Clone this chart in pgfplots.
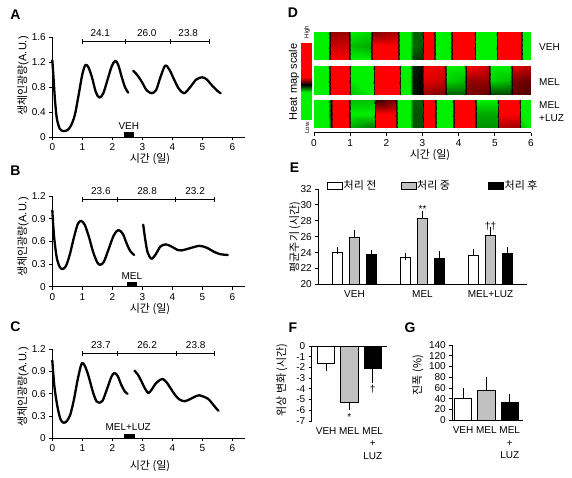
\documentclass[border=0pt]{standalone}
\usepackage{fontspec}
\setmainfont{Liberation Sans}
\newfontfamily\kr{Noto Sans CJK KR}
\usepackage{pgfplots}
\pgfplotsset{compat=1.18}
\definecolor{bargray}{RGB}{192,192,192}
\newcommand\tl{\fontsize{10}{12}\selectfont}
\newcommand\kl{\kr\fontsize{11}{13}\selectfont}
\newcommand\pl{\fontsize{14}{16}\selectfont\bfseries}
\tikzset{bk/.style={line width=0.8pt},
  curve/.style={black, line width=2.3pt, smooth, line cap=round, line join=round}}
\pgfplotsset{
  base/.style={scale only axis, anchor=south west, tick align=outside, major tick length=3pt,
    /pgf/number format/assume math mode=true,
    tick label style={font=\tl},
    axis line style={line width=0.8pt}, tick style={line width=0.8pt, black},
    axis lines*=left},
  curveax/.style={base, xmin=0, xmax=6.42, xtick={0,...,6}, ymin=0, width=192.6pt, clip=false},
  ebar/.style={ybar, bar shift=0pt, draw=black, line width=0.8pt,
    error bars/y explicit, error bars/error bar style={line width=0.8pt},
    error bars/error mark options={line width=0.8pt, black, mark size=3.5pt}},
  ebar4/.style={ebar, error bars/error mark options={line width=0.8pt, black, mark size=4pt}},
}
\begin{document}
\begin{tikzpicture}[x=1pt,y=1pt]
\path[use as bounding box] (0,0) rectangle (572,478);

% ---------------- A
\begin{axis}[curveax, at={(52.3pt,341pt)}, height=100pt, ymax=1.6, ytick={0,0.4,0.8,1.2,1.6}]
\addplot[curve] coordinates {(0,1.23) (0.04,0.95) (0.09,0.59) (0.15,0.3) (0.25,0.13) (0.37,0.095) (0.5,0.11) (0.62,0.18) (0.75,0.35) (0.88,0.68) (1.0,1.0) (1.1,1.15) (1.2,1.12) (1.32,0.96) (1.45,0.72) (1.57,0.63) (1.7,0.7) (1.85,0.93) (1.98,1.13) (2.1,1.22) (2.2,1.15) (2.32,0.95) (2.43,0.79) (2.53,0.71)};
\addplot[curve] coordinates {(2.7,1.06) (2.85,0.98) (3.0,0.87) (3.14,0.75) (3.31,0.70) (3.46,0.75) (3.6,0.95) (3.76,1.14) (3.9,1.08) (4.05,0.93) (4.22,0.77) (4.4,0.70) (4.6,0.80) (4.8,0.92) (5.0,0.955) (5.15,0.92) (5.35,0.81) (5.5,0.74) (5.61,0.70)};
\draw[bk] (axis cs:1,1.525) -- (axis cs:5.23,1.525);
\draw[bk] ([yshift=-2.5pt]axis cs:1,1.525) -- ([yshift=2.5pt]axis cs:1,1.525);
\draw[bk] ([yshift=-2.5pt]axis cs:2.45,1.525) -- ([yshift=2.5pt]axis cs:2.45,1.525);
\draw[bk] ([yshift=-2.5pt]axis cs:3.93,1.525) -- ([yshift=2.5pt]axis cs:3.93,1.525);
\draw[bk] ([yshift=-2.5pt]axis cs:5.23,1.525) -- ([yshift=2.5pt]axis cs:5.23,1.525);
\node[font=\tl, anchor=base, inner sep=0, yshift=5pt] at (axis cs:1.6,1.525) {24.1};
\node[font=\tl, anchor=base, inner sep=0, yshift=5pt] at (axis cs:3.15,1.525) {26.0};
\node[font=\tl, anchor=base, inner sep=0, yshift=5pt] at (axis cs:4.53,1.525) {23.8};
\fill (axis cs:2.39,0) rectangle (axis cs:2.72,0.08);
\node[font=\tl, anchor=south, inner sep=0, yshift=2.5pt] at (axis cs:2.55,0.08) {VEH};
\end{axis}

% ---------------- B
\begin{axis}[curveax, at={(52.3pt,191.3pt)}, height=90.7pt, ymax=1.2, ytick={0,0.3,0.6,0.9,1.2}]
\addplot[curve] coordinates {(0,1.01) (0.06,0.66) (0.15,0.38) (0.25,0.26) (0.34,0.234) (0.45,0.27) (0.58,0.42) (0.72,0.65) (0.85,0.83) (0.96,0.87) (1.08,0.82) (1.22,0.66) (1.36,0.46) (1.5,0.32) (1.6,0.29) (1.72,0.33) (1.88,0.5) (2.05,0.68) (2.2,0.75) (2.35,0.7) (2.48,0.57) (2.6,0.47) (2.73,0.42)};
\addplot[curve] coordinates {(3.03,0.82) (3.1,0.62) (3.18,0.45) (3.31,0.37) (3.45,0.43) (3.6,0.53) (3.78,0.56) (3.98,0.53) (4.18,0.485) (4.31,0.48) (4.55,0.505) (4.9,0.54) (5.15,0.515) (5.4,0.46) (5.6,0.43) (5.85,0.42)};
\draw[bk] (axis cs:1,1.156) -- (axis cs:5.4,1.156);
\draw[bk] ([yshift=-2.5pt]axis cs:1,1.156) -- ([yshift=2.5pt]axis cs:1,1.156);
\draw[bk] ([yshift=-2.5pt]axis cs:2.17,1.156) -- ([yshift=2.5pt]axis cs:2.17,1.156);
\draw[bk] ([yshift=-2.5pt]axis cs:4.1,1.156) -- ([yshift=2.5pt]axis cs:4.1,1.156);
\draw[bk] ([yshift=-2.5pt]axis cs:5.4,1.156) -- ([yshift=2.5pt]axis cs:5.4,1.156);
\node[font=\tl, anchor=base, inner sep=0, yshift=5pt] at (axis cs:1.62,1.156) {23.6};
\node[font=\tl, anchor=base, inner sep=0, yshift=5pt] at (axis cs:3.16,1.156) {28.8};
\node[font=\tl, anchor=base, inner sep=0, yshift=5pt] at (axis cs:4.76,1.156) {23.2};
\fill (axis cs:2.49,0) rectangle (axis cs:2.81,0.06);
\node[font=\tl, anchor=south, inner sep=0, yshift=2pt] at (axis cs:2.65,0.06) {MEL};
\end{axis}

% ---------------- C
\begin{axis}[curveax, at={(52.3pt,39.7pt)}, height=89pt, ymax=1.2, ytick={0,0.3,0.6,0.9,1.2}]
\addplot[curve] coordinates {(0,1.05) (0.07,0.70) (0.17,0.43) (0.27,0.26) (0.37,0.21) (0.48,0.23) (0.6,0.32) (0.72,0.52) (0.85,0.8) (0.98,1.01) (1.08,0.98) (1.2,0.85) (1.35,0.63) (1.47,0.5) (1.56,0.48) (1.68,0.51) (1.82,0.66) (1.97,0.83) (2.07,0.88) (2.18,0.84) (2.3,0.72) (2.42,0.63) (2.51,0.6)};
\addplot[curve] coordinates {(2.74,0.91) (2.85,0.86) (2.97,0.77) (3.09,0.67) (3.2,0.61) (3.3,0.65) (3.45,0.74) (3.6,0.79) (3.68,0.8) (3.8,0.76) (3.95,0.67) (4.1,0.58) (4.25,0.52) (4.42,0.5) (4.6,0.53) (4.8,0.57) (4.9,0.58) (5.05,0.56) (5.2,0.53) (5.35,0.46) (5.45,0.41) (5.54,0.37)};
\draw[bk] (axis cs:1,1.15) -- (axis cs:5.4,1.15);
\draw[bk] ([yshift=-2.5pt]axis cs:1,1.15) -- ([yshift=2.5pt]axis cs:1,1.15);
\draw[bk] ([yshift=-2.5pt]axis cs:2.17,1.15) -- ([yshift=2.5pt]axis cs:2.17,1.15);
\draw[bk] ([yshift=-2.5pt]axis cs:4.12,1.15) -- ([yshift=2.5pt]axis cs:4.12,1.15);
\draw[bk] ([yshift=-2.5pt]axis cs:5.4,1.15) -- ([yshift=2.5pt]axis cs:5.4,1.15);
\node[font=\tl, anchor=base, inner sep=0, yshift=5pt] at (axis cs:1.62,1.15) {23.7};
\node[font=\tl, anchor=base, inner sep=0, yshift=5pt] at (axis cs:3.16,1.15) {26.2};
\node[font=\tl, anchor=base, inner sep=0, yshift=5pt] at (axis cs:4.78,1.15) {23.8};
\fill (axis cs:2.39,0) rectangle (axis cs:2.76,0.06);
\node[font=\tl, anchor=south, inner sep=0, yshift=3.5pt] at (axis cs:2.53,0.06) {MEL+LUZ};
\end{axis}

% ---------------- D heat map
\begin{axis}[scale only axis, anchor=south west, at={(314pt,345.3pt)}, width=217pt, height=100.7pt,
  view={0}{90}, hide axis, xmin=0, xmax=6, ymin=0, ymax=100.7, zmin=-1, zmax=1,
  colormap={gbr}{rgb255=(0,240,0) rgb255=(0,0,0) rgb255=(255,0,0)},
  point meta min=-1, point meta max=1]
% VEH
\addplot3[surf, shader=interp, mesh/ordering=y varies, mesh/rows=3, point meta=explicit] coordinates {
(0,72.7,0)[-1] (0,86.7,0)[-1] (0,100.7,0)[-1]
(0.40,72.7,0)[-1] (0.40,86.7,0)[-1] (0.40,100.7,0)[-1]
(0.48,72.7,0)[1] (0.48,86.7,0)[0.8] (0.48,100.7,0)[0.6]
(0.95,72.7,0)[1] (0.95,86.7,0)[0.8] (0.95,100.7,0)[0.6]
(1.02,72.7,0)[-1] (1.02,86.7,0)[-0.8] (1.02,100.7,0)[-1]
(1.55,72.7,0)[-1] (1.55,86.7,0)[-0.7] (1.55,100.7,0)[-0.9]
(1.63,72.7,0)[1] (1.63,86.7,0)[1] (1.63,100.7,0)[0.5]
(2.30,72.7,0)[1] (2.30,86.7,0)[1] (2.30,100.7,0)[0.7]
(2.37,72.7,0)[-1] (2.37,86.7,0)[-1] (2.37,100.7,0)[-1]
(2.66,72.7,0)[-1] (2.66,86.7,0)[-1] (2.66,100.7,0)[-1]
(2.74,72.7,0)[-0.25] (2.74,86.7,0)[-0.45] (2.74,100.7,0)[-0.4]
(2.98,72.7,0)[-0.2] (2.98,86.7,0)[-0.4] (2.98,100.7,0)[-0.4]
(3.04,72.7,0)[1] (3.04,86.7,0)[1] (3.04,100.7,0)[1]
(3.30,72.7,0)[1] (3.30,86.7,0)[1] (3.30,100.7,0)[1]
(3.37,72.7,0)[-1] (3.37,86.7,0)[-1] (3.37,100.7,0)[-1]
(3.76,72.7,0)[-1] (3.76,86.7,0)[-1] (3.76,100.7,0)[-1]
(3.84,72.7,0)[1] (3.84,86.7,0)[1] (3.84,100.7,0)[1]
(4.42,72.7,0)[1] (4.42,86.7,0)[1] (4.42,100.7,0)[1]
(4.49,72.7,0)[-1] (4.49,86.7,0)[-1] (4.49,100.7,0)[-1]
(5.02,72.7,0)[-1] (5.02,86.7,0)[-1] (5.02,100.7,0)[-1]
(5.09,72.7,0)[1] (5.09,86.7,0)[1] (5.09,100.7,0)[1]
(5.70,72.7,0)[1] (5.70,86.7,0)[1] (5.70,100.7,0)[1]
(5.77,72.7,0)[-1] (5.77,86.7,0)[-1] (5.77,100.7,0)[-1]
(6,72.7,0)[-1] (6,86.7,0)[-1] (6,100.7,0)[-1]
};
% MEL
\addplot3[surf, shader=interp, mesh/ordering=y varies, mesh/rows=3, point meta=explicit] coordinates {
(0,38.4,0)[-1] (0,52.7,0)[-1] (0,67,0)[-1]
(0.40,38.4,0)[-1] (0.40,52.7,0)[-1] (0.40,67,0)[-1]
(0.48,38.4,0)[1] (0.48,52.7,0)[1] (0.48,67,0)[1]
(0.96,38.4,0)[1] (0.96,52.7,0)[1] (0.96,67,0)[1]
(1.03,38.4,0)[-0.8] (1.03,52.7,0)[-1] (1.03,67,0)[-1]
(1.62,38.4,0)[-1] (1.62,52.7,0)[-1] (1.62,67,0)[-1]
(1.70,38.4,0)[1] (1.70,52.7,0)[1] (1.70,67,0)[1]
(2.34,38.4,0)[1] (2.34,52.7,0)[1] (2.34,67,0)[1]
(2.41,38.4,0)[-1] (2.41,52.7,0)[-1] (2.41,67,0)[-1]
(2.66,38.4,0)[-1] (2.66,52.7,0)[-1] (2.66,67,0)[-1]
(2.74,38.4,0)[-0.1] (2.74,52.7,0)[-0.1] (2.74,67,0)[-0.15]
(2.98,38.4,0)[0] (2.98,52.7,0)[0] (2.98,67,0)[-0.05]
(3.05,38.4,0)[0.6] (3.05,52.7,0)[0.9] (3.05,67,0)[1]
(3.60,38.4,0)[0.5] (3.60,52.7,0)[0.8] (3.60,67,0)[0.9]
(3.68,38.4,0)[-0.4] (3.68,52.7,0)[-0.9] (3.68,67,0)[-1]
(4.15,38.4,0)[-0.4] (4.15,52.7,0)[-0.8] (4.15,67,0)[-1]
(4.22,38.4,0)[0.5] (4.22,52.7,0)[0.6] (4.22,67,0)[1]
(4.82,38.4,0)[0.4] (4.82,52.7,0)[0.6] (4.82,67,0)[0.8]
(4.90,38.4,0)[-0.3] (4.90,52.7,0)[-0.9] (4.90,67,0)[-1]
(5.42,38.4,0)[-0.3] (5.42,52.7,0)[-0.8] (5.42,67,0)[-1]
(5.50,38.4,0)[0.4] (5.50,52.7,0)[0.5] (5.50,67,0)[0.9]
(6,38.4,0)[0.3] (6,52.7,0)[0.4] (6,67,0)[0.7]
};
% MEL+LUZ
\addplot3[surf, shader=interp, mesh/ordering=y varies, mesh/rows=3, point meta=explicit] coordinates {
(0,5,0)[-1] (0,18.85,0)[-1] (0,32.7,0)[-1]
(0.38,5,0)[-1] (0.38,18.85,0)[-1] (0.38,32.7,0)[-1]
(0.46,5,0)[-0.2] (0.46,18.85,0)[0] (0.46,32.7,0)[0]
(0.52,5,0)[1] (0.52,18.85,0)[1] (0.52,32.7,0)[1]
(0.95,5,0)[1] (0.95,18.85,0)[1] (0.95,32.7,0)[1]
(1.03,5,0)[-0.7] (1.03,18.85,0)[-1] (1.03,32.7,0)[-0.8]
(1.65,5,0)[-0.5] (1.65,18.85,0)[-1] (1.65,32.7,0)[-0.8]
(1.72,5,0)[1] (1.72,18.85,0)[1] (1.72,32.7,0)[0.2]
(2.25,5,0)[1] (2.25,18.85,0)[1] (2.25,32.7,0)[0.5]
(2.32,5,0)[-1] (2.32,18.85,0)[-1] (2.32,32.7,0)[-1]
(2.66,5,0)[-1] (2.66,18.85,0)[-1] (2.66,32.7,0)[-1]
(2.74,5,0)[-0.35] (2.74,18.85,0)[-0.35] (2.74,32.7,0)[-0.4]
(2.98,5,0)[-0.35] (2.98,18.85,0)[-0.35] (2.98,32.7,0)[-0.4]
(3.04,5,0)[1] (3.04,18.85,0)[1] (3.04,32.7,0)[1]
(3.32,5,0)[1] (3.32,18.85,0)[1] (3.32,32.7,0)[1]
(3.39,5,0)[-1] (3.39,18.85,0)[-1] (3.39,32.7,0)[-1]
(3.82,5,0)[-1] (3.82,18.85,0)[-1] (3.82,32.7,0)[-1]
(3.90,5,0)[1] (3.90,18.85,0)[1] (3.90,32.7,0)[1]
(4.42,5,0)[1] (4.42,18.85,0)[1] (4.42,32.7,0)[1]
(4.50,5,0)[-0.6] (4.50,18.85,0)[-0.7] (4.50,32.7,0)[-1]
(5.05,5,0)[-0.6] (5.05,18.85,0)[-0.7] (5.05,32.7,0)[-1]
(5.12,5,0)[0.7] (5.12,18.85,0)[1] (5.12,32.7,0)[1]
(5.66,5,0)[0.6] (5.66,18.85,0)[1] (5.66,32.7,0)[1]
(5.73,5,0)[-0.8] (5.73,18.85,0)[-1] (5.73,32.7,0)[-1]
(6,5,0)[-1] (6,18.85,0)[-1] (6,32.7,0)[-1]
};
\end{axis}
\begin{axis}[base, at={(314pt,345.3pt)}, width=217pt, height=100.7pt, xmin=0, xmax=6, ymin=0, ymax=100.7,
  axis x line*=bottom, axis y line=none, xtick={0,...,6}]
\end{axis}

% ---------------- E
\begin{axis}[base, at={(318.3pt,193.7pt)}, width=208.4pt, height=95.3pt, xmin=-0.532, xmax=2.532,
  ymin=20, ymax=32, ytick={20,22,...,32}, xtick={0,1,2}, xticklabels={VEH,MEL,MEL+LUZ},
  xtick style={draw=none}]
\addplot[ebar, bar width=10.4pt, fill=white, error bars/y dir=plus] coordinates {(-0.25,24.03) +- (0,0.25) (0.75,23.4) +- (0,0.1) (1.75,23.7) +- (0,0.3)};
\addplot[ebar, bar width=10.4pt, fill=bargray, error bars/y dir=plus] coordinates {(0,25.96) +- (0,0.45) (1,28.3) +- (0,0.5) (2,26.2) +- (0,0.6)};
\addplot[ebar, bar width=10.4pt, fill=black, error bars/y dir=plus] coordinates {(0.25,23.8) +- (0,0.08) (1.25,23.3) +- (0,0.4) (2.25,23.9) +- (0,0.3)};
\node[font=\tl, anchor=base, inner sep=0] at (axis cs:1,29.0) {**};
\node[font=\tl, anchor=base, inner sep=0] at (axis cs:2,26.96) {††};
\end{axis}

% ---------------- F
\begin{axis}[base, at={(311.7pt,57pt)}, width=75pt, height=75pt, xmin=-0.62, xmax=2.6,
  ymin=-7, ymax=0, ytick={-7,...,0}, xtick={0,1,2}, xticklabels={VEH,MEL,{MEL\\+\\LUZ}},
  xticklabel style={align=center, font=\fontsize{10}{12.5}\selectfont},
  x axis line style={draw=none}, xtick style={draw=none}, clip=false]
\draw[bk] (axis cs:-0.62,0) -- (axis cs:2.6,0);
\addplot[ebar4, bar width=17.5pt, fill=white, error bars/y dir=minus] coordinates {(0,-1.65) +- (0,0.35)};
\addplot[ebar4, bar width=17.5pt, fill=bargray, error bars/y dir=minus] coordinates {(1,-5.3) +- (0,0.3)};
\addplot[ebar4, bar width=17.5pt, fill=black, error bars/y dir=minus] coordinates {(2,-2.05) +- (0,1.05)};
\node[font=\tl, anchor=base, inner sep=0] at (axis cs:1,-6.96) {*};
\node[font=\tl, anchor=base, inner sep=0] at (axis cs:2,-4.3) {†};
\end{axis}

% ---------------- G
\begin{axis}[base, at={(452.3pt,57.7pt)}, width=71pt, height=75.3pt, xmin=-0.46, xmax=2.58,
  ymin=0, ymax=140, ytick={0,20,...,140}, xtick={0,1,2}, xticklabels={VEH,MEL,{MEL\\+\\LUZ}},
  xticklabel style={align=center, font=\fontsize{10}{12.5}\selectfont}, xtick style={draw=none}]
\addplot[ebar4, bar width=17.5pt, fill=white, error bars/y dir=plus] coordinates {(0,41) +- (0,11)};
\addplot[ebar4, bar width=17.5pt, fill=bargray, error bars/y dir=plus] coordinates {(1,55) +- (0,18)};
\addplot[ebar4, bar width=17.5pt, fill=black, error bars/y dir=plus] coordinates {(2,33.5) +- (0,7.5)};
\end{axis}

% ---------------- texts
\node[font=\pl] at (15.5,463) {A};
\node[font=\pl] at (15.5,307) {B};
\node[font=\pl] at (15.5,151) {C};
\node[font=\pl] at (293,465) {D};
\node[font=\pl] at (294.5,310) {E};
\node[font=\pl] at (293,150) {F};
\node[font=\pl] at (410,150) {G};

\node[rotate=90, font=\fontsize{11}{13}\selectfont] at (23,402) {{\kr 생체인광량}(A.U.)};
\node[rotate=90, font=\fontsize{11}{13}\selectfont] at (23,241) {{\kr 생체인광량}(A.U.)};
\node[rotate=90, font=\fontsize{11}{13}\selectfont] at (23,91) {{\kr 생체인광량}(A.U.)};
\node[font=\kl] at (150,319) {시간 (일)};
\node[font=\kl] at (150,168.5) {시간 (일)};
\node[font=\kl] at (150,12) {시간 (일)};
\node[font=\kl] at (430,322.8) {시간 (일)};
\node[rotate=90, font=\kl] at (295,241) {평균주기 (시간)};
\node[rotate=90, font=\kl] at (282,98) {위상 변화 (시간)};
\node[rotate=90, font=\kl] at (418,103) {진폭 (\%)};

% heat map scale
\fill[red] (301,435) rectangle (312,401);
\shade[top color=red, bottom color=black] (301,401) rectangle (312,393);
\shade[top color=black, bottom color={rgb,255:red,0;green,240;blue,0}] (301,393) rectangle (312,386);
\fill[color={rgb,255:red,0;green,240;blue,0}] (301,386) rectangle (312,358);
\node[rotate=90, font=\fontsize{11}{13}\selectfont] at (294,396) {Heat map scale};
\node[rotate=90, font=\fontsize{6}{7}\selectfont] at (307,446) {High};
\node[rotate=90, font=\fontsize{6}{7}\selectfont] at (307,350) {Low};
\node[font=\tl, anchor=west, inner sep=0] at (539,431.3) {VEH};
\node[font=\tl, anchor=west, inner sep=0] at (539,396.3) {MEL};
\node[font=\tl, anchor=west, inner sep=0] at (539,373) {MEL};
\node[font=\tl, anchor=west, inner sep=0] at (539,359.7) {+LUZ};

% E legend
\draw[bk, fill=white] (327.3,288.7) rectangle (342.7,295.7);
\draw[bk, fill=bargray] (401,288.7) rectangle (416,295.7);
\draw[bk, fill=black] (488.7,288.7) rectangle (503.7,295.7);
\node[font=\kl, anchor=west, inner sep=0] at (343.5,292.2) {처리 전};
\node[font=\kl, anchor=west, inner sep=0] at (417,292.2) {처리 중};
\node[font=\kl, anchor=west, inner sep=0] at (504.5,292.2) {처리 후};
\end{tikzpicture}
\end{document}
